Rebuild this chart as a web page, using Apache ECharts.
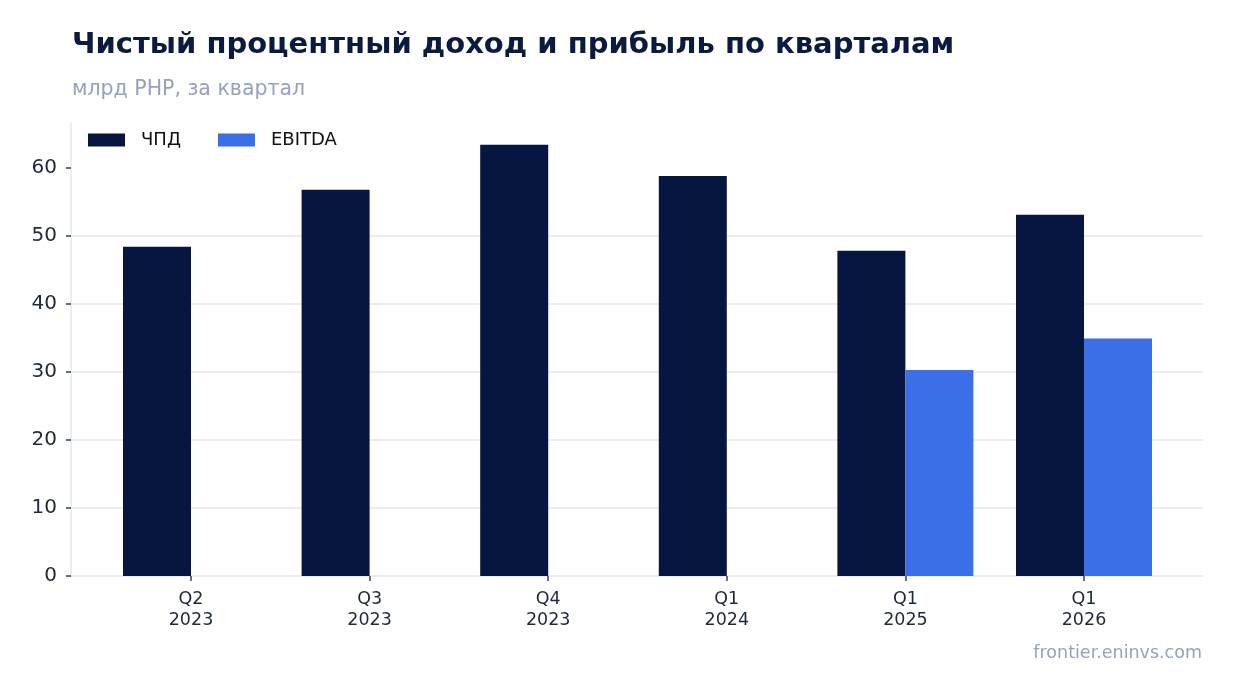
<!DOCTYPE html>
<html>
<head>
<meta charset="utf-8">
<script src="https://cdn.jsdelivr.net/npm/echarts@6/dist/echarts.min.js"></script>
<style>
  html, body { margin: 0; padding: 0; background: #fff; }
  #chart { width: 1234px; height: 693px; }
</style>
</head>
<body>
<div id="chart"></div>
<script>
var quarters = ['Q2\n2023', 'Q3\n2023', 'Q4\n2023', 'Q1\n2024', 'Q1\n2025', 'Q1\n2026'];
var nii = [48.4, 56.8, 63.4, 58.8, 47.8, 53.1];
var ebitda = [null, null, null, null, 30.3, 34.9];
var yTicks = [0, 10, 20, 30, 40, 50, 60];

var font = 'DejaVu Sans';
var yMax = 66.6;

var myChart = echarts.init(document.getElementById('chart'));
var option = {
    animation: false,
    backgroundColor: '#fff',
    title: [{
        text: 'Чистый процентный доход и прибыль по кварталам',
        left: 67, top: 26,
        textStyle: { fontFamily: font, fontSize: 29, fontWeight: 'bold', color: '#0b1a3f' }
    }, {
        text: 'млрд РНР, за квартал',
        left: 67, top: 74,
        textStyle: { fontFamily: font, fontSize: 20.5, fontWeight: 'normal', color: '#94a3b8' }
    }, {
        text: 'frontier.eninvs.com',
        right: 27, top: 639,
        textStyle: { fontFamily: font, fontSize: 17.5, fontWeight: 'normal', color: '#94a3b8' }
    }],
    legend: {
        left: 83, top: 126,
        itemWidth: 37, itemHeight: 13, itemGap: 37,
        icon: 'rect',
        textStyle: { fontFamily: font, fontSize: 18, color: '#111', padding: [0, 0, 0, 11] },
        data: ['ЧПД', 'EBITDA']
    },
    grid: [
        { left: 71, right: 31, top: 123, bottom: 117 },
        { left: 101.7, right: 60.7, top: 123, bottom: 117 }
    ],
    xAxis: [{
        gridIndex: 0, type: 'value', min: 0, max: 1,
        axisLine: { show: true, lineStyle: { color: '#e2e8f0', width: 1.5 } },
        axisTick: { show: false }, axisLabel: { show: false }, splitLine: { show: false }
    }, {
        gridIndex: 1, type: 'category', data: quarters,
        axisLine: { show: false },
        axisTick: { show: true, alignWithLabel: true, length: 5, lineStyle: { color: '#334155', width: 1.5 } },
        axisLabel: { fontFamily: font, fontSize: 17.5, lineHeight: 21, color: '#1e293b', margin: 13 },
        splitLine: { show: false }
    }],
    yAxis: [{
        gridIndex: 0, type: 'value', min: 0, max: yMax,
        axisLine: { show: true, lineStyle: { color: '#e2e8f0', width: 1.5 } },
        axisTick: { show: true, length: 5, customValues: yTicks, lineStyle: { color: '#334155', width: 1.5 } },
        axisLabel: { fontFamily: font, fontSize: 20, color: '#1e293b', margin: 14, customValues: yTicks },
        splitLine: { show: true, showMaxLine: false, showMinLine: false, lineStyle: { color: '#e2e8f0', width: 1.5 } }
    }, {
        gridIndex: 1, type: 'value', min: 0, max: yMax,
        axisLine: { show: false }, axisTick: { show: false }, axisLabel: { show: false }, splitLine: { show: false }
    }],
    series: [{
        name: 'ЧПД', type: 'bar', xAxisIndex: 1, yAxisIndex: 1,
        data: nii, barWidth: 68, barGap: '0%',
        itemStyle: { color: '#061640' }
    }, {
        name: 'EBITDA', type: 'bar', xAxisIndex: 1, yAxisIndex: 1,
        data: ebitda, barWidth: 68, barGap: '0%',
        itemStyle: { color: '#3b6fe8' }
    }]
};
myChart.setOption(option);
</script>
</body>
</html>
